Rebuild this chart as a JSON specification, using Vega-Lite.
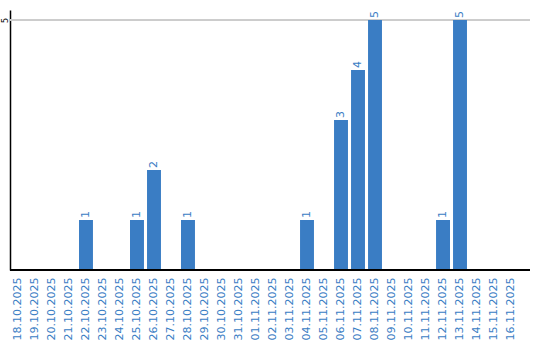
{
  "$schema": "https://vega.github.io/schema/vega-lite/v6.json",
  "autosize": {"type": "none"},
  "padding": {"left": 10, "top": 10, "right": 10, "bottom": 70},
  "width": 520,
  "height": 260,
  "background": "white",
  "config": {"view": {"stroke": null}, "font": "DejaVu Sans"},
  "data": {"values": [
    {"date": "18.10.2025", "count": 0},
    {"date": "19.10.2025", "count": 0},
    {"date": "20.10.2025", "count": 0},
    {"date": "21.10.2025", "count": 0},
    {"date": "22.10.2025", "count": 1},
    {"date": "23.10.2025", "count": 0},
    {"date": "24.10.2025", "count": 0},
    {"date": "25.10.2025", "count": 1},
    {"date": "26.10.2025", "count": 2},
    {"date": "27.10.2025", "count": 0},
    {"date": "28.10.2025", "count": 1},
    {"date": "29.10.2025", "count": 0},
    {"date": "30.10.2025", "count": 0},
    {"date": "31.10.2025", "count": 0},
    {"date": "01.11.2025", "count": 0},
    {"date": "02.11.2025", "count": 0},
    {"date": "03.11.2025", "count": 0},
    {"date": "04.11.2025", "count": 1},
    {"date": "05.11.2025", "count": 0},
    {"date": "06.11.2025", "count": 3},
    {"date": "07.11.2025", "count": 4},
    {"date": "08.11.2025", "count": 5},
    {"date": "09.11.2025", "count": 0},
    {"date": "10.11.2025", "count": 0},
    {"date": "11.11.2025", "count": 0},
    {"date": "12.11.2025", "count": 1},
    {"date": "13.11.2025", "count": 5},
    {"date": "14.11.2025", "count": 0},
    {"date": "15.11.2025", "count": 0},
    {"date": "16.11.2025", "count": 0}
  ]},
  "encoding": {
    "x": {
      "field": "date", "type": "ordinal", "sort": null,
      "scale": {"range": [0, 509], "paddingInner": 0.18, "paddingOuter": 0.06},
      "axis": {
        "title": null, "domain": false, "ticks": false,
        "labelAngle": -90, "labelAlign": "right", "labelBaseline": "middle",
        "labelPadding": 7, "labelFontSize": 11, "labelColor": "#3a7dc4",
        "labelFont": "DejaVu Sans", "labelOverlap": false
      }
    },
    "y": {
      "field": "count", "type": "quantitative",
      "scale": {"domain": [0, 5.2], "nice": false},
      "axis": {
        "title": null, "values": [5], "ticks": false, "grid": false,
        "domainColor": "#000000", "domainWidth": 1.5,
        "labelAngle": -90, "labelAlign": "center", "labelBaseline": "middle",
        "labelFontSize": 8, "labelColor": "#000000", "labelPadding": 5
      }
    }
  },
  "layer": [
    {
      "mark": {"type": "rule", "color": "#cccccc", "strokeWidth": 1},
      "encoding": {"y": {"datum": 5}, "x": null}
    },
    {
      "mark": {"type": "bar", "color": "#3a7dc4"}
    },
    {
      "transform": [{"filter": "datum.count > 0"}],
      "mark": {"type": "text", "angle": -90, "align": "left", "baseline": "middle", "dx": 2, "fontSize": 11, "color": "#3a7dc4", "font": "DejaVu Sans"},
      "encoding": {"text": {"field": "count", "type": "quantitative"}}
    },
    {
      "mark": {"type": "rule", "color": "#000000", "strokeWidth": 2},
      "encoding": {"y": {"datum": 0}, "x": null}
    }
  ]
}
